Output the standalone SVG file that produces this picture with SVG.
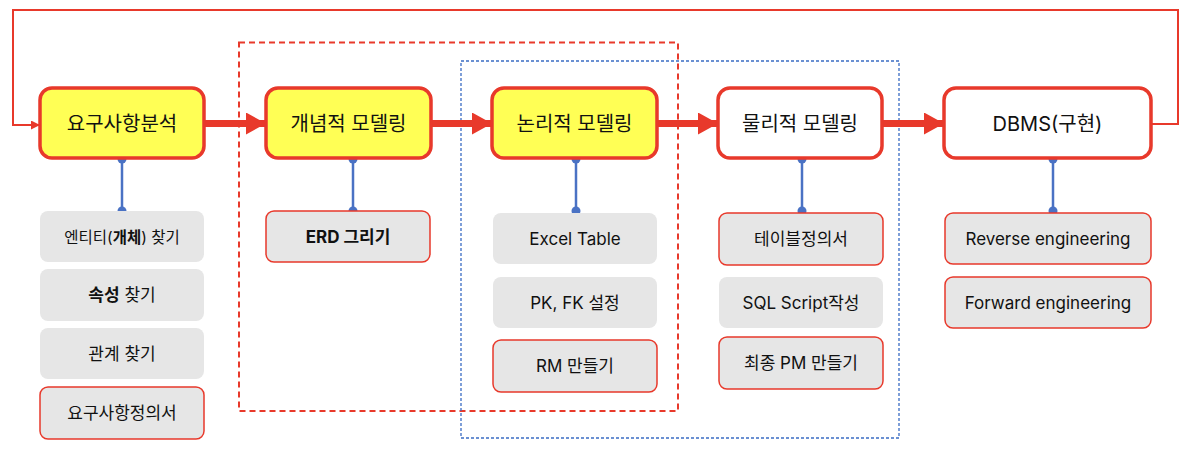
<svg xmlns="http://www.w3.org/2000/svg" width="1194" height="450" viewBox="0 0 1194 450">
<style>
text{font-family:Inter,"Noto Sans","Noto Sans CJK KR",sans-serif;fill:#111;text-anchor:middle;dominant-baseline:central}
.main rect{stroke:#e8392b;stroke-width:3.5}
.y{fill:#ffff55}
.w{fill:#fff}
.main text{font-size:20px}
.sub rect{fill:#e6e6e6;stroke:none}
.sub rect.r{stroke:#e8392b;stroke-width:1.5}
.sub text{font-size:17px}
.thick{stroke:#e8392b;stroke-width:7;fill:none}
.blue{stroke:#4a72c4;stroke-width:2.5}
.dot{fill:#4a72c4}
</style>
<defs>
<marker id="big" markerUnits="userSpaceOnUse" markerWidth="20" markerHeight="22" refX="20" refY="11" orient="auto"><path d="M0,0 L20,11 L0,22 Z" fill="#e8392b"/></marker>
<marker id="small" markerUnits="userSpaceOnUse" markerWidth="9" markerHeight="9" refX="9" refY="4.5" orient="auto"><path d="M0,0 L9,4.5 L0,9 Z" fill="#e8392b"/></marker>
</defs>
<rect x="239" y="42.5" width="439" height="368.5" fill="none" stroke="#e8392b" stroke-width="2" stroke-dasharray="6,4"/>
<rect x="461" y="61" width="438" height="377" fill="none" stroke="#3a6cc4" stroke-width="1.3" stroke-dasharray="3,2"/>
<g id="connectors">
<polyline points="1151,124 1178,124 1178,10 13,10 13,125 40,125" fill="none" stroke="#e8392b" stroke-width="2" marker-end="url(#small)"/>
<line class="thick" x1="204" y1="123.5" x2="266" y2="123.5" marker-end="url(#big)"/>
<line class="thick" x1="431" y1="123.5" x2="492" y2="123.5" marker-end="url(#big)"/>
<line class="thick" x1="657" y1="123.5" x2="718" y2="123.5" marker-end="url(#big)"/>
<line class="thick" x1="882" y1="123.5" x2="944" y2="123.5" marker-end="url(#big)"/>
<line class="blue" x1="122" y1="159" x2="122" y2="211"/><circle class="dot" cx="122" cy="159" r="4.5"/><circle class="dot" cx="122" cy="211" r="4.5"/>
<line class="blue" x1="353" y1="159" x2="353" y2="211"/><circle class="dot" cx="353" cy="159" r="4.5"/><circle class="dot" cx="353" cy="211" r="4.5"/>
<line class="blue" x1="576" y1="159" x2="576" y2="211"/><circle class="dot" cx="576" cy="159" r="4.5"/><circle class="dot" cx="576" cy="211" r="4.5"/>
<line class="blue" x1="802" y1="159" x2="802" y2="211"/><circle class="dot" cx="802" cy="159" r="4.5"/><circle class="dot" cx="802" cy="211" r="4.5"/>
<line class="blue" x1="1053" y1="159" x2="1053" y2="211"/><circle class="dot" cx="1053" cy="159" r="4.5"/><circle class="dot" cx="1053" cy="211" r="4.5"/>
</g>
<g id="n1" class="main"><rect class="y" x="40" y="88" width="164" height="70" rx="12"/><text x="122" y="124">요구사항분석</text></g>
<g id="n2" class="main"><rect class="y" x="266" y="88" width="165" height="70" rx="12"/><text x="348.5" y="124">개념적 모델링</text></g>
<g id="n3" class="main"><rect class="y" x="492" y="88" width="165" height="70" rx="12"/><text x="574.5" y="124">논리적 모델링</text></g>
<g id="n4" class="main"><rect class="w" x="718" y="88" width="164" height="70" rx="12"/><text x="800" y="124">물리적 모델링</text></g>
<g id="n5" class="main"><rect class="w" x="944" y="88" width="207" height="70" rx="12"/><text x="1047.5" y="124">DBMS(구현)</text></g>
<g id="s1a" class="sub"><rect x="40" y="211" width="164" height="51" rx="8"/><text x="122" y="237" style="font-size:15.5px">엔티티(<tspan font-weight="bold">개체</tspan>) 찾기</text></g>
<g id="s1b" class="sub"><rect x="40" y="269" width="164" height="52" rx="8"/><text x="122" y="295"><tspan font-weight="bold">속성</tspan> 찾기</text></g>
<g id="s1c" class="sub"><rect x="40" y="328" width="164" height="51" rx="8"/><text x="122" y="354">관계 찾기</text></g>
<g id="s1d" class="sub"><rect class="r" x="40" y="387" width="164" height="52" rx="8"/><text x="122" y="413">요구사항정의서</text></g>
<g id="s2a" class="sub"><rect class="r" x="266" y="211" width="164" height="51" rx="8"/><text x="348" y="237" font-weight="bold">ERD 그리기</text></g>
<g id="s3a" class="sub"><rect x="493" y="213" width="164" height="51" rx="8"/><text x="575" y="239">Excel Table</text></g>
<g id="s3b" class="sub"><rect x="493" y="277" width="164" height="51" rx="8"/><text x="575" y="303">PK, FK 설정</text></g>
<g id="s3c" class="sub"><rect class="r" x="493" y="340" width="164" height="52" rx="8"/><text x="575" y="366">RM 만들기</text></g>
<g id="s4a" class="sub"><rect class="r" x="719" y="213" width="164" height="52" rx="8"/><text x="801" y="239">테이블정의서</text></g>
<g id="s4b" class="sub"><rect x="719" y="277" width="164" height="51" rx="8"/><text x="801" y="303">SQL Script작성</text></g>
<g id="s4c" class="sub"><rect class="r" x="719" y="337" width="164" height="52" rx="8"/><text x="801" y="363">최종 PM 만들기</text></g>
<g id="s5a" class="sub"><rect class="r" x="945" y="213" width="206" height="51" rx="8"/><text x="1048" y="239">Reverse engineering</text></g>
<g id="s5b" class="sub"><rect class="r" x="945" y="277" width="206" height="51" rx="8"/><text x="1048" y="303">Forward engineering</text></g>
</svg>
